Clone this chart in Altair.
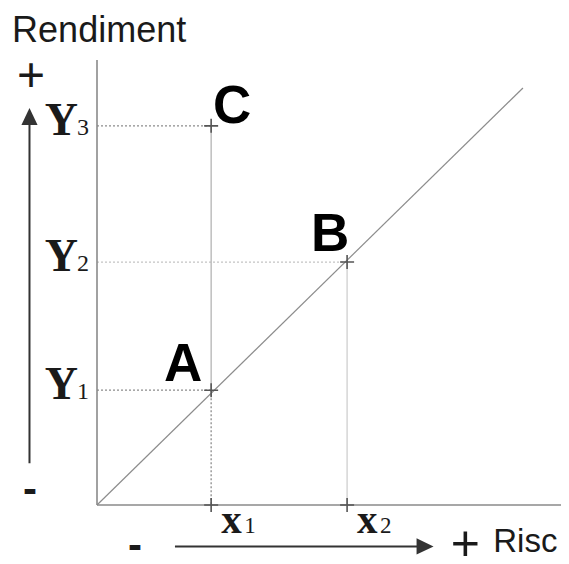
import altair as alt
import pandas as pd

# ---- data ----
point_names = ["A", "B", "C"]
point_x = [2.46, 5.39, 2.46]
point_y = [2.58, 5.46, 8.52]

y_tick_letters = ["Y", "Y", "Y"]
y_tick_subs = ["1", "2", "3"]
y_tick_values = [2.58, 5.46, 8.52]

x_tick_letters = ["x", "x"]
x_tick_subs = ["1", "2"]
x_tick_values = [2.46, 5.39]

diag_x = [0.0, 9.18]
diag_y = [0.0, 9.37]

X_DOMAIN = [0, 10]
Y_DOMAIN = [0, 10]

pts = pd.DataFrame({"name": point_names, "x": point_x, "y": point_y,
                    "x0": [0.0] * 3, "y0": [0.0] * 3})
yt = pd.DataFrame({"t": y_tick_letters, "s": y_tick_subs, "y": y_tick_values, "x": [0.0] * 3})
xt = pd.DataFrame({"t": x_tick_letters, "s": x_tick_subs, "x": x_tick_values, "y": [0.0] * 2})
diag = pd.DataFrame({"x": diag_x, "y": diag_y})

xs = alt.Scale(domain=X_DOMAIN, nice=False, zero=False)
ys = alt.Scale(domain=Y_DOMAIN, nice=False, zero=False)


def X(f="x"):
    return alt.X(f + ":Q", scale=xs, axis=None)


def Y(f="y"):
    return alt.Y(f + ":Q", scale=ys, axis=None)


def seg(x, y, x2=None, y2=None):
    d = {"x": [x], "y": [y]}
    if x2 is not None:
        d["x2"] = [x2]
    if y2 is not None:
        d["y2"] = [y2]
    return pd.DataFrame(d)


SANS = "Liberation Sans"
SERIF = "Liberation Serif"
INK = "#1a1a1a"

base = alt.Chart(pts)

# axis lines
y_axis = alt.Chart(seg(0.0, Y_DOMAIN[0], y2=Y_DOMAIN[1])).mark_rule(color="#8a8a8a", strokeWidth=1.6).encode(
    x=X(), y=Y(), y2="y2:Q")
x_axis = alt.Chart(seg(X_DOMAIN[0], 0.0, x2=X_DOMAIN[1])).mark_rule(color="#8a8a8a", strokeWidth=1.6).encode(
    x=X(), x2="x2:Q", y=Y())

diag_line = alt.Chart(diag).mark_line(color="#8c8c8c", strokeWidth=1.2).encode(x=X(), y=Y())

# guides
h_guides = base.mark_rule(strokeDash=[2, 2], strokeWidth=1.3).encode(
    x=X("x0"), x2="x:Q", y=Y(),
    color=alt.condition(alt.datum.name == "B", alt.value("#c4c4c4"), alt.value("#8c8c8c")))
v_c_to_a = alt.Chart(seg(point_x[2], point_y[2], y2=point_y[0])).mark_rule(
    color="#b4b4b4", strokeWidth=1.3).encode(x=X(), y=Y(), y2="y2:Q")
v_a_down = base.transform_filter(alt.datum.name == "A").mark_rule(
    color="#8c8c8c", strokeWidth=1.3, strokeDash=[2, 2]).encode(x=X(), y=Y(), y2="y0:Q")
v_b_down = base.transform_filter(alt.datum.name == "B").mark_rule(
    color="#cfcfcf", strokeWidth=1.3).encode(x=X(), y=Y(), y2="y0:Q")

CROSS = "M-1,0H1M0,-1V1"
crosses = base.mark_point(shape=CROSS, size=196, color="#555", strokeWidth=1.6, filled=False, opacity=1).encode(
    x=X(), y=Y())
tick_crosses = alt.Chart(xt).mark_point(shape=CROSS, size=196, color="#555", strokeWidth=1.6, filled=False,
                                        opacity=1).encode(x=X(), y=Y())


# point letters
def letter(name, dx, dy):
    return base.transform_filter(alt.datum.name == name).mark_text(
        font=SANS, fontWeight="bold", fontSize=53, color="#000", align="center",
        baseline="alphabetic", dx=dx, dy=dy).encode(x=X(), y=Y(), text="name:N")


lab_a = letter("A", -28, -9)
lab_b = letter("B", -17, -11)
lab_c = letter("C", 21, -3)

# y tick labels
y_letters = alt.Chart(yt).mark_text(font=SERIF, fontWeight="bold", fontSize=46, color=INK,
                                    align="right", baseline="alphabetic", dx=-19, dy=9).encode(
    x=X(), y=Y(), text="t:N")
y_subs = alt.Chart(yt).mark_text(font=SERIF, fontSize=24, color=INK,
                                 align="left", baseline="alphabetic", dx=-20, dy=9).encode(
    x=X(), y=Y(), text="s:N")

# x tick labels
x_letters = alt.Chart(xt).mark_text(font=SERIF, fontWeight="bold", fontSize=41, color=INK,
                                    align="left", baseline="alphabetic", dx=10, dy=28).encode(
    x=X(), y=Y(), text="t:N")
x_subs = alt.Chart(xt).mark_text(font=SERIF, fontSize=23, color=INK,
                                 align="left", baseline="alphabetic", dx=33, dy=28).encode(
    x=X(), y=Y(), text="s:N")


# arrows and axis captions
def txt(s, x, y, size, align="left", baseline="alphabetic", weight="normal", font=SANS):
    return alt.Chart(seg(x, y)).mark_text(text=s, font=font, fontSize=size, fontWeight=weight, color=INK,
                                          align=align, baseline=baseline).encode(x=X(), y=Y())


ROW = -0.93  # vertical level of the risk arrow, below the x axis

v_shaft = alt.Chart(seg(-1.455, 0.94, y2=8.6)).mark_rule(color="#333", strokeWidth=2).encode(
    x=X(), y=Y(), y2="y2:Q")
v_head = alt.Chart(seg(-1.455, 8.73)).mark_point(shape="M0,-1L0.95,1L-0.95,1Z", size=289, filled=True,
                                                 color="#333", opacity=1).encode(x=X(), y=Y())
h_shaft = alt.Chart(seg(1.68, ROW, x2=6.96)).mark_rule(color="#333", strokeWidth=2).encode(
    x=X(), x2="x2:Q", y=Y())
h_head = alt.Chart(seg(7.07, ROW)).mark_point(shape="M1,0L-1,0.95L-1,-0.95Z", size=289, filled=True,
                                              color="#333", opacity=1).encode(x=X(), y=Y())

t_rend = txt("Rendiment", -1.83, 10.40, 36)
t_plus_top = txt("+", -1.42, 9.62, 48, align="center", baseline="middle")
t_minus_left = txt("-", -1.444, 0.337, 42, align="center", baseline="middle", weight="bold")
t_minus_bot = txt("-", 0.82, ROW, 42, align="center", baseline="middle", weight="bold")
t_plus_bot = txt("+", 7.94, -0.89, 50, align="center", baseline="middle")
t_risc = txt("Risc", 8.54, -1.05, 33)

chart = alt.layer(
    v_b_down, h_guides, v_c_to_a, v_a_down, diag_line, y_axis, x_axis,
    crosses, tick_crosses, lab_a, lab_b, lab_c,
    y_letters, y_subs, x_letters, x_subs,
    v_shaft, v_head, h_shaft, h_head,
    t_rend, t_plus_top, t_minus_left, t_minus_bot, t_plus_bot, t_risc,
).properties(
    width=464, height=445,
    padding={"left": 89, "top": 52, "right": 0, "bottom": 51},
    autosize=alt.AutoSizeParams(type="none"),
    background="white",
).configure_view(stroke=None)

chart.save("out.html", embed_options={"renderer": "svg", "actions": False})
